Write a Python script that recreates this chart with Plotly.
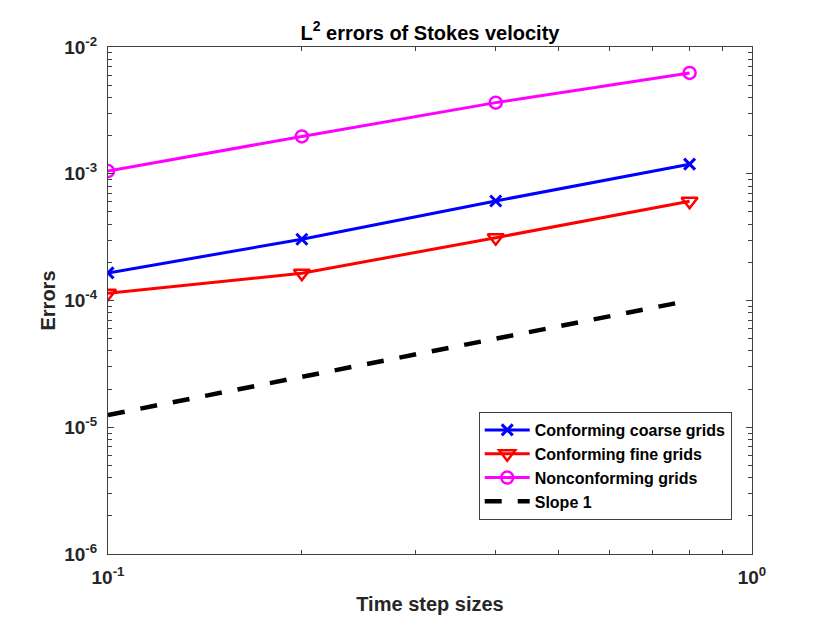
import plotly.graph_objects as go

# time step sizes and errors
dt = [0.1, 0.2, 0.4, 0.8]
err_coarse = [1.65e-4, 3.04e-4, 6.1e-4, 1.19e-3]
err_fine = [1.14e-4, 1.64e-4, 3.13e-4, 6.07e-4]
err_noncon = [1.05e-3, 1.97e-3, 3.64e-3, 6.24e-3]
slope_ref = [1.25e-5, 2.5e-5, 5e-5, 1e-4]

x_major = [0.1, 1]
x_major_text = ["10<sup>-1</sup>", "10<sup>0</sup>"]
y_major = [1e-6, 1e-5, 1e-4, 1e-3, 1e-2]
y_major_text = ["10<sup>-6</sup>", "10<sup>-5</sup>", "10<sup>-4</sup>",
                "10<sup>-3</sup>", "10<sup>-2</sup>"]

x_minor = [k * 0.1 for k in range(2, 10)]
y_minor = [k * 10.0 ** e for e in range(-6, -2) for k in range(2, 10)]

FONT = "Liberation Sans, Arial, sans-serif"
AX = "#404040"

fig = go.Figure()
fig.add_trace(go.Scatter(
    x=dt, y=err_coarse, mode="lines+markers", name="Conforming coarse grids",
    line=dict(color="#0000ff", width=3),
    marker=dict(symbol="x-thin-open", size=11, line=dict(color="#0000ff", width=3)),
))
fig.add_trace(go.Scatter(
    x=dt, y=err_fine, mode="lines+markers", name="Conforming fine grids",
    line=dict(color="#ff0000", width=3),
    marker=dict(symbol="triangle-down-open", size=14, line=dict(color="#ff0000", width=2.5)),
))
fig.add_trace(go.Scatter(
    x=dt, y=err_noncon, mode="lines+markers", name="Nonconforming grids",
    line=dict(color="#ff00ff", width=3),
    marker=dict(symbol="circle-open", size=12, line=dict(color="#ff00ff", width=2.5)),
))
fig.add_trace(go.Scatter(
    x=dt, y=slope_ref, mode="lines", name="Slope 1",
    line=dict(color="black", width=4.5, dash="17px,16px"),
))

axis_common = dict(
    type="log", showgrid=False, zeroline=False, automargin=False,
    showline=True, linecolor=AX, linewidth=1, mirror="ticks",
    ticks="inside", ticklen=6, tickcolor=AX, tickwidth=1,
    tickfont=dict(family=FONT, size=19, color="#262626", weight="bold"),
)

fig.update_layout(
    width=830, height=623,
    paper_bgcolor="white", plot_bgcolor="white",
    margin=dict(l=108, r=78, t=47, b=69),
    title=dict(text="L<sup>2</sup> errors of Stokes velocity", x=0.518, xanchor="center",
               y=0.936, yanchor="bottom",
               font=dict(family=FONT, size=20, color="black", weight="bold")),
    xaxis=dict(axis_common, range=[-1, 0], tickmode="array",
               tickvals=x_major, ticktext=x_major_text, ticklabelstandoff=6,
               minor=dict(tickvals=x_minor, ticks="inside", ticklen=4, tickcolor=AX),
               title=dict(text="Time step sizes", standoff=10,
                          font=dict(family=FONT, size=20, color="#262626", weight="bold"))),
    yaxis=dict(axis_common, range=[-6, -2], tickmode="array",
               tickvals=y_major, ticktext=y_major_text, ticklabelstandoff=6,
               minor=dict(tickvals=y_minor, ticks="inside", ticklen=4, tickcolor=AX),
               title=dict(text="Errors", standoff=3,
                          font=dict(family=FONT, size=20, color="#262626", weight="bold"))),
    legend=dict(x=0.9685, y=0.067, xanchor="right", yanchor="bottom",
                bgcolor="white", bordercolor=AX, borderwidth=1,
                font=dict(family=FONT, size=16, color="black", weight="bold"),
                itemwidth=45, tracegroupgap=0),
    showlegend=True,
)

fig.write_html("out.html", config={"displayModeBar": False},
               post_script="document.body.style.margin='0px';")
